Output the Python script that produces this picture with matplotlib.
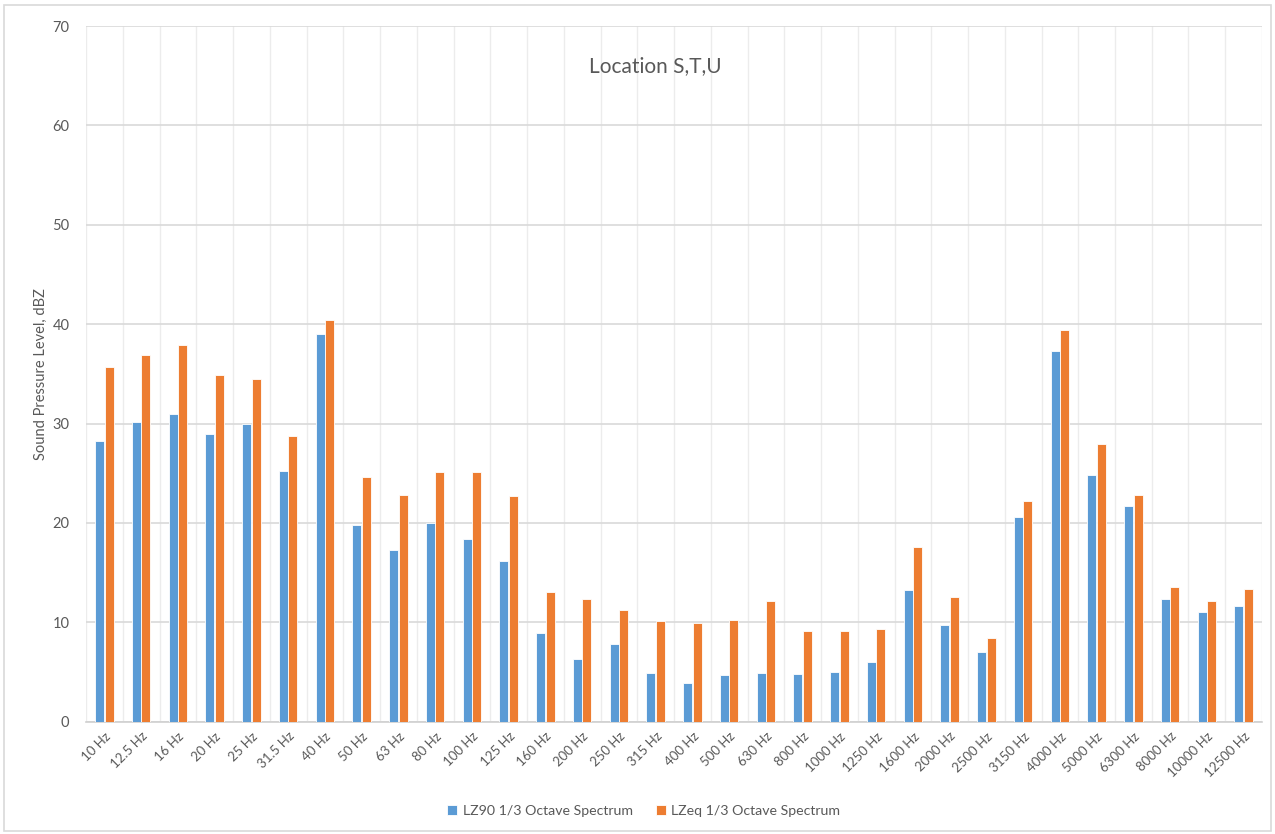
import numpy as np
import matplotlib
matplotlib.use("Agg")
import matplotlib.pyplot as plt
from matplotlib.patches import Rectangle

plt.rcParams['font.family'] = ['Lato', 'DejaVu Sans']

# 1/3 octave band centre frequencies
bands = ['10 Hz', '12.5 Hz', '16 Hz', '20 Hz', '25 Hz', '31.5 Hz', '40 Hz', '50 Hz',
         '63 Hz', '80 Hz', '100 Hz', '125 Hz', '160 Hz', '200 Hz', '250 Hz', '315 Hz',
         '400 Hz', '500 Hz', '630 Hz', '800 Hz', '1000 Hz', '1250 Hz', '1600 Hz',
         '2000 Hz', '2500 Hz', '3150 Hz', '4000 Hz', '5000 Hz', '6300 Hz', '8000 Hz',
         '10000 Hz', '12500 Hz']

# levels in dBZ
lz90 = [28.2, 30.2, 31.0, 29.0, 30.0, 25.2, 39.0, 19.8, 17.3, 20.0, 18.4, 16.2,
        8.9, 6.3, 7.8, 4.9, 3.9, 4.7, 4.9, 4.8, 5.0, 6.0, 13.3, 9.7, 7.0, 20.6,
        37.3, 24.8, 21.7, 12.3, 11.0, 11.6]
lzeq = [35.7, 36.9, 37.9, 34.9, 34.5, 28.7, 40.4, 24.6, 22.8, 25.1, 25.1, 22.7,
        13.1, 12.3, 11.2, 10.1, 9.9, 10.2, 12.1, 9.1, 9.1, 9.3, 17.6, 12.6, 8.4,
        22.2, 39.4, 27.9, 22.8, 13.6, 12.1, 13.4]

blue = '#5B9BD5'
orange = '#ED7D31'
grey = '#595959'

fig = plt.figure(figsize=(12.75, 8.34), dpi=100)
ax = fig.add_axes([0.0675, 0.1346, 0.9223, 0.8342])

x = np.arange(len(bands))
w = 0.245
ax.bar(x - 0.13, lz90, w, color=blue, edgecolor='white', linewidth=0.6,
       label='LZ90 1/3 Octave Spectrum', zorder=3)
ax.bar(x + 0.13, lzeq, w, color=orange, edgecolor='white', linewidth=0.6,
       label='LZeq 1/3 Octave Spectrum', zorder=3)

ax.set_xlim(-0.5, len(bands) - 0.5)
ax.set_ylim(0, 70)
ax.set_yticks(range(0, 71, 10))
ax.set_xticks(x)
ax.set_xticklabels(bands, rotation=45, ha='right', rotation_mode='anchor',
                   fontsize=9.5, color=grey)
ax.set_xticks(np.arange(-0.5, len(bands), 0.5), minor=True)
ax.tick_params(axis='both', which='both', length=0)
ax.tick_params(axis='y', labelsize=10.5, labelcolor=grey, pad=12)
ax.tick_params(axis='x', pad=6)

ax.grid(axis='y', color='#d9d9d9', linewidth=1.2, zorder=0)
ax.grid(axis='x', which='minor', color='#ececec', linewidth=1.0, zorder=0)
for s in ['top', 'right', 'left']:
    ax.spines[s].set_visible(False)
ax.spines['bottom'].set_color('#d0d0d0')
ax.spines['bottom'].set_linewidth(1.2)

ax.set_ylabel('Sound Pressure Level, dBZ', fontsize=10.5, color=grey, labelpad=3)

fig.text(0.514, 0.921, 'Location S,T,U', ha='center', va='center',
         fontsize=15, color=grey)

fig.legend(loc='center', bbox_to_anchor=(0.505, 0.0276), ncol=2, frameon=False,
           handlelength=0.7, handleheight=0.7, handletextpad=0.4, columnspacing=1.6,
           fontsize=10.2, labelcolor=grey)

# outer chart border
fig.patches.append(Rectangle((0.003, 0.004), 0.994, 0.99, transform=fig.transFigure,
                             fill=False, edgecolor='#d9d9d9', linewidth=1.2))

fig.savefig('out.png', dpi=100)
